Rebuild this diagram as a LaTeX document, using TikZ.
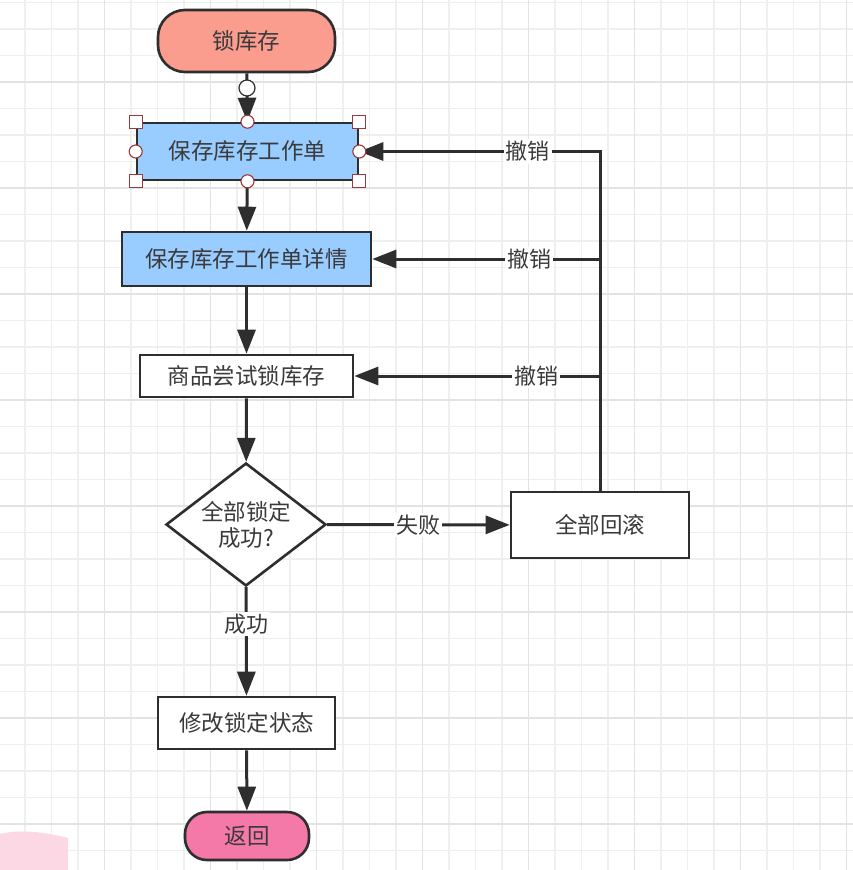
\documentclass[tikz,border=0pt]{standalone}
\usepackage{fontspec}
\newfontfamily\cjk{Noto Sans CJK SC}
\usetikzlibrary{arrows.meta,shapes.geometric}
\definecolor{ln}{HTML}{2E2E2E}
\definecolor{txt}{HTML}{3A3A3A}
\definecolor{salmon}{HTML}{FA9C8E}
\definecolor{lblue}{HTML}{99CCFF}
\definecolor{hpink}{HTML}{F478A8}
\definecolor{gminor}{HTML}{EFEFEF}
\definecolor{gmajor}{HTML}{E3E3E3}
\definecolor{hred}{HTML}{9A3A3A}
\definecolor{smudge}{HTML}{FBD8E4}
\tikzset{
  base/.style={draw=ln, line width=2.6pt, font=\cjk\fontsize{22.5}{26}\selectfont, text=txt, inner sep=0pt},
  boxnode/.style={base, rectangle, fill=white},
  pill/.style={base, rectangle},
  dia/.style={base, diamond, fill=white, aspect=1.3, align=center},
  arr/.style={draw=ln, line width=3pt, -{Triangle[length=24pt,width=18pt]}},
  plain/.style={draw=ln, line width=3pt},
  lbl/.style={fill=white, inner sep=2pt, font=\cjk\fontsize{22}{26}\selectfont, text=txt},
  hcirc/.style={circle, draw=hred, fill=white, line width=1.1pt, minimum size=13pt, inner sep=0pt},
  hsq/.style={rectangle, draw=hred, fill=white, line width=1.1pt, minimum size=13pt, inner sep=0pt},
  minorline/.style={draw=gminor, line width=1.2pt},
  majorline/.style={draw=gmajor, line width=1.4pt}
}
\begin{document}
\begin{tikzpicture}[x=1pt,y=-1pt]
\useasboundingbox (0,0) rectangle (853,870);
\fill[white] (0,0) rectangle (853,870);
% grid
\foreach \i in {0,...,31} { \draw[minorline] (25+26.5*\i,0) -- ++(0,870); }
\foreach \i in {0,...,32} { \draw[minorline] (0,2.5+26.5*\i) -- ++(853,0); }
\foreach \i in {3,7,...,31} { \draw[majorline] (25+26.5*\i,0) -- ++(0,870); }
\foreach \i in {3,7,...,31} { \draw[majorline] (0,2.5+26.5*\i) -- ++(853,0); }
% smudge
\fill[smudge] (0,834) .. controls (20,829) and (45,832) .. (68,838) -- (68,870) -- (0,870) -- cycle;

% nodes
\node[pill, fill=salmon, rounded corners=27pt, minimum width=177pt, minimum height=62pt] (start) at (246.5,41) {锁库存};
\node[boxnode, fill=lblue, minimum width=221pt, minimum height=57pt] (b1) at (247.5,151.5) {保存库存工作单};
\node[boxnode, fill=lblue, minimum width=249pt, minimum height=54pt] (b2) at (246.5,259) {保存库存工作单详情};
\node[boxnode, minimum width=213pt, minimum height=42pt] (b3) at (246.5,376) {商品尝试锁库存};
\node[dia, minimum width=160pt, minimum height=123pt] (d) at (246,524.5) {全部锁定\\成功?};
\node[boxnode, minimum width=178pt, minimum height=66pt] (rb) at (600,525) {全部回滚};
\node[boxnode, minimum width=177pt, minimum height=52pt] (b4) at (246.5,723) {修改锁定状态};
\node[pill, fill=hpink, rounded corners=22pt, minimum width=124pt, minimum height=48pt] (end) at (247,836) {返回};

% main flow
\draw[arr] (start) -- (b1);
\draw[arr] (b1) -- (b2);
\draw[arr] (b2) -- (b3);
\draw[arr] (b3) -- (d);
\draw[arr] (d) -- node[lbl]{失败} (rb);
\draw[arr] (d) -- node[lbl, pos=0.34]{成功} (b4);
\draw[arr] (b4) -- (end);

% rollback lines
\coordinate (j2) at (600,259);
\coordinate (j3) at (600,376);
\draw[arr] (rb.north) |- node[lbl, pos=0.65]{撤销} (b1.east);
\draw[arr] (j2) -- node[lbl, pos=0.31]{撤销} (b2.east);
\draw[arr] (j3) -- node[lbl, pos=0.26]{撤销} (b3.east);

% selection handles
\node[circle, draw=ln, fill=white, line width=1.2pt, minimum size=16pt, inner sep=0pt] (h0) at (247,88) {};
\foreach \a in {north,south,east,west} { \node[hcirc] at (b1.\a) {}; }
\foreach \a in {north east,north west,south east,south west} { \node[hsq] at (b1.\a) {}; }
\end{tikzpicture}
\end{document}
